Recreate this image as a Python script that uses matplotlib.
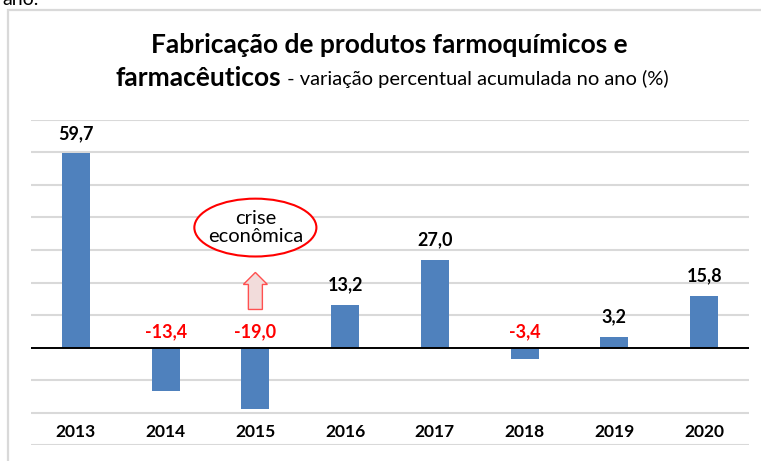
import matplotlib
matplotlib.use("Agg")
import matplotlib.pyplot as plt
from matplotlib.patches import Ellipse, FancyArrow, Rectangle

years = ["2013", "2014", "2015", "2016", "2017", "2018", "2019", "2020"]
values = [59.7, -13.4, -19.0, 13.2, 27.0, -3.4, 3.2, 15.8]
labels = ["59,7", "-13,4", "-19,0", "13,2", "27,0", "-3,4", "3,2", "15,8"]

FONT = "Lato"
W, H = 761, 461
fig = plt.figure(figsize=(W / 100, H / 100), dpi=100)
fig.patch.set_facecolor("white")

# outer frame
fig.add_artist(Rectangle((8 / W, -0.1), 1.1, 1 - 10 / H + 0.1, transform=fig.transFigure,
                         fill=False, edgecolor="#d9d9d9", linewidth=1.6))
fig.text(2 / W, 1 - 5 / H, "ano.", fontsize=14, family=FONT, va="baseline", ha="left")

ax = fig.add_axes([31 / W, (H - 445) / H, 718 / W, 325 / H])
ax.set_xlim(-0.5, len(years) - 0.5)
ax.set_ylim(-30, 70)
for s in ax.spines.values():
    s.set_visible(False)
ax.set_xticks([])
ax.set_yticks([])
for g in range(-30, 71, 10):
    if g != 0:
        ax.axhline(g, color="#d9d9d9", linewidth=1.5, zorder=0)

x = list(range(len(years)))
ax.bar(x, values, width=0.31, color="#4F81BD", zorder=2)
ax.axhline(0, color="black", linewidth=1.4, zorder=3)

for xi, v, lab in zip(x, values, labels):
    if v >= 0:
        ax.annotate(lab, (xi, v), xytext=(0, 20), textcoords="offset pixels",
                    ha="center", va="center", fontsize=13, fontweight="bold", family=FONT, color="black")
    else:
        ax.annotate(lab, (xi, 0), xytext=(0, 16), textcoords="offset pixels",
                    ha="center", va="center", fontsize=13, fontweight="bold", family=FONT, color="#FF0000")

for xi, yr in zip(x, years):
    ax.text(xi, -26, yr, ha="center", va="center", fontsize=12.5, fontweight="bold", family=FONT)

# annotation
ax.add_patch(Ellipse((2.0, 36.9), 1.36, 17.8, facecolor="white", edgecolor="#FF0000", linewidth=1.5, zorder=4))
ax.text(2.0, 36.9, "crise\neconômica", ha="center", va="center", fontsize=14.5, family=FONT,
        linespacing=1.05, zorder=5)
ax.add_patch(FancyArrow(2.0, 11.7, 0, 11.4, width=14 / 89.75, head_width=24 / 89.75, head_length=3.7,
                        length_includes_head=True, facecolor="#f2dcdb", edgecolor="#ff5050",
                        linewidth=1.0, zorder=4))

# title
t1 = fig.text(389 / W, 1 - 45 / H, "Fabricação de produtos farmoquímicos e", ha="center", va="center",
              fontsize=19, fontweight="bold", family=FONT)
fig.canvas.draw()
r = fig.canvas.get_renderer()
tb = fig.text(0, 1 - 78 / H, "farmacêuticos", ha="left", va="center", fontsize=19,
              fontweight="bold", family=FONT)
tr = fig.text(0, 1 - 79 / H, " - variação percentual acumulada no ano (%)", ha="left", va="center",
              fontsize=14.5, family=FONT)
wb = tb.get_window_extent(r).width
wr = tr.get_window_extent(r).width
start = 392 - (wb + wr) / 2
tb.set_x(start / W)
tr.set_x((start + wb) / W)

fig.savefig("out.png", dpi=100)
